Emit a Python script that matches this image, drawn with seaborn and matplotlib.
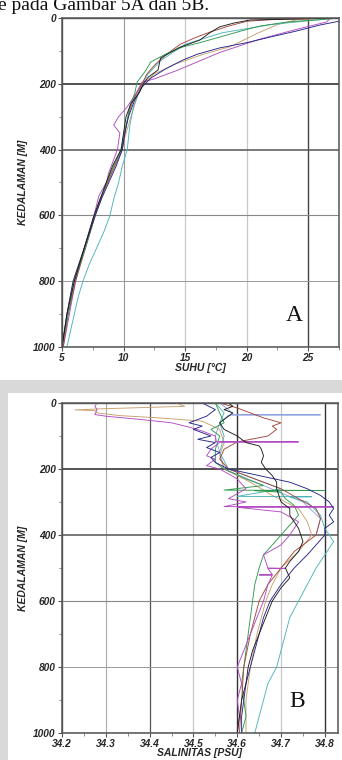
import pandas as pd
import matplotlib.pyplot as plt
import seaborn as sns
from matplotlib.patches import Rectangle
from matplotlib.ticker import MultipleLocator

# ---- Panel A: temperature profiles (depth m, temp degC) ----
a_black_depth = [0, 3, 6, 15, 27, 45, 67, 90, 122, 158, 180, 200, 225, 260, 300, 350, 400, 450, 500, 550, 600, 650, 700, 750, 800, 850, 900, 950, 1000]
a_black_temp = [27.4, 24.0, 20.3, 19.0, 17.8, 17.0, 16.2, 14.5, 13.0, 12.8, 12.0, 11.6, 11.3, 10.6, 10.2, 10.0, 9.8, 9.1, 8.6, 8.1, 7.6, 7.2, 6.8, 6.4, 6.0, 5.7, 5.4, 5.2, 5.0]

a_brown_depth = [0, 5, 10, 25, 43, 60, 80, 110, 140, 170, 200, 240, 280, 330, 400, 450, 500, 560, 600, 700, 800, 900, 1000]
a_brown_temp = [27.2, 22.0, 20.0, 18.5, 17.0, 15.8, 14.6, 13.5, 12.6, 11.9, 11.5, 10.9, 10.5, 10.2, 9.9, 9.3, 8.7, 8.0, 7.7, 6.9, 6.1, 5.5, 5.1]

a_green_depth = [0, 5, 12, 25, 40, 58, 75, 88, 110, 134, 160, 195, 230, 270, 310, 360, 400, 450, 500, 550, 600, 700, 800, 900, 1000]
a_green_temp = [27.6, 26.0, 23.3, 21.0, 19.5, 17.8, 16.2, 14.8, 13.4, 12.2, 11.8, 11.1, 10.9, 10.5, 10.3, 10.0, 9.8, 9.2, 8.6, 8.2, 7.7, 6.9, 6.0, 5.5, 5.0]

a_navy_depth = [0, 9, 21, 40, 58, 75, 91, 110, 128, 155, 183, 210, 250, 300, 350, 400, 450, 500, 550, 600, 700, 800, 900, 1000]
a_navy_temp = [27.6, 27.6, 26.0, 24.0, 21.9, 20.0, 17.8, 16.0, 14.8, 13.4, 12.2, 11.5, 10.9, 10.4, 10.1, 9.9, 9.4, 8.8, 8.2, 7.7, 6.8, 5.9, 5.4, 5.0]

a_tan_depth = [0, 6, 20, 46, 70, 88, 110, 140, 170, 200, 240, 300, 350, 400, 450, 500, 550, 600, 700, 800, 900, 1000]
a_tan_temp = [26.5, 24.0, 22.5, 20.9, 19.6, 18.6, 16.5, 14.2, 12.5, 11.6, 11.1, 10.6, 10.2, 9.8, 9.2, 8.7, 8.1, 7.6, 6.8, 5.9, 5.4, 5.0]

a_teal_depth = [0, 20, 45, 80, 130, 170, 200, 270, 330, 400, 450, 500, 550, 600, 650, 700, 750, 800, 850, 900, 950, 1000]
a_teal_temp = [27.2, 22.0, 18.0, 15.0, 13.0, 12.0, 11.5, 10.8, 10.5, 10.3, 9.9, 9.6, 9.2, 8.9, 8.4, 7.8, 7.2, 6.7, 6.3, 6.0, 5.7, 5.4]

a_purple_depth = [0, 12, 35, 65, 105, 160, 185, 195, 230, 270, 300, 325, 350, 400, 470, 500, 540, 600, 700, 800, 900, 1000]
a_purple_temp = [26.8, 26.5, 24.0, 21.0, 17.8, 14.3, 12.5, 11.5, 11.0, 10.3, 9.6, 9.2, 9.7, 9.5, 8.8, 8.6, 8.0, 7.6, 6.8, 6.1, 5.6, 5.1]

# ---- Panel B: salinity profiles (depth m, salinity PSU) ----
b_black_depth = [0, 10, 20, 30, 40, 60, 80, 100, 120, 130, 140, 160, 180, 200, 220, 240, 260, 280, 300, 320, 340, 360, 380, 400, 420, 450, 480, 500, 530, 560, 600, 650, 700, 750, 800, 850, 900, 950, 1000]
b_black_sal = [34.58, 34.59, 34.57, 34.59, 34.58, 34.56, 34.57, 34.60, 34.62, 34.65, 34.655, 34.66, 34.655, 34.665, 34.68, 34.69, 34.69, 34.695, 34.70, 34.72, 34.72, 34.73, 34.74, 34.745, 34.75, 34.74, 34.72, 34.71, 34.72, 34.70, 34.68, 34.665, 34.65, 34.635, 34.625, 34.62, 34.61, 34.605, 34.60]

b_brown_depth = [0, 15, 30, 45, 60, 70, 80, 100, 118, 140, 170, 200, 230, 260, 290, 320, 350, 400, 450, 500, 550, 600, 700, 800, 900, 1000]
b_brown_sal = [34.56, 34.60, 34.63, 34.66, 34.70, 34.68, 34.69, 34.67, 34.60, 34.57, 34.56, 34.58, 34.64, 34.70, 34.74, 34.78, 34.79, 34.78, 34.73, 34.70, 34.67, 34.65, 34.63, 34.615, 34.61, 34.605]

b_purple_depth = [0, 10, 20, 35, 40, 50, 60, 73, 85, 100, 117, 118, 119, 140, 160, 170, 190, 200, 230, 260, 290, 300, 314, 315, 316, 330, 360, 400, 430, 460, 500, 501, 502, 520, 521, 522, 550, 600, 650, 700, 750, 800, 850, 900, 950, 1000]
b_purple_sal = [34.28, 34.275, 34.28, 34.275, 34.30, 34.38, 34.45, 34.49, 34.52, 34.55, 34.55, 34.74, 34.56, 34.54, 34.53, 34.55, 34.53, 34.56, 34.60, 34.62, 34.58, 34.62, 34.57, 34.82, 34.60, 34.70, 34.74, 34.72, 34.70, 34.66, 34.67, 34.71, 34.67, 34.68, 34.65, 34.68, 34.67, 34.66, 34.645, 34.63, 34.615, 34.60, 34.61, 34.60, 34.605, 34.60]

b_navy_depth = [0, 20, 40, 60, 70, 80, 100, 110, 120, 135, 150, 165, 180, 200, 220, 240, 260, 280, 300, 320, 340, 360, 380, 400, 430, 460, 500, 550, 600, 650, 700, 750, 800, 850, 900, 950, 1000]
b_navy_sal = [34.52, 34.55, 34.53, 34.49, 34.52, 34.50, 34.54, 34.51, 34.55, 34.53, 34.56, 34.54, 34.55, 34.58, 34.65, 34.72, 34.76, 34.79, 34.81, 34.82, 34.81, 34.82, 34.80, 34.80, 34.78, 34.76, 34.73, 34.70, 34.675, 34.66, 34.65, 34.64, 34.63, 34.62, 34.615, 34.61, 34.61]

b_green_depth = [0, 30, 60, 80, 100, 140, 180, 200, 230, 250, 264, 265, 266, 270, 290, 310, 340, 370, 400, 430, 460, 500, 550, 600, 650, 700, 750, 800, 850, 900, 950, 1000]
b_green_sal = [34.55, 34.56, 34.57, 34.54, 34.56, 34.55, 34.55, 34.57, 34.62, 34.66, 34.57, 34.80, 34.64, 34.70, 34.71, 34.73, 34.74, 34.72, 34.70, 34.68, 34.66, 34.65, 34.64, 34.635, 34.63, 34.625, 34.62, 34.615, 34.61, 34.615, 34.62, 34.61]

b_teal_depth = [0, 30, 60, 100, 150, 200, 230, 260, 283, 284, 285, 300, 340, 380, 420, 460, 500, 550, 600, 650, 700, 750, 800, 850, 900, 950, 1000]
b_teal_sal = [34.55, 34.57, 34.56, 34.57, 34.56, 34.58, 34.64, 34.70, 34.60, 34.77, 34.72, 34.76, 34.79, 34.80, 34.82, 34.80, 34.78, 34.76, 34.74, 34.72, 34.71, 34.70, 34.69, 34.67, 34.66, 34.65, 34.64]

b_tan_depth = [0, 10, 18, 21, 23, 30, 38, 45, 55, 80, 120, 160, 200, 240, 280, 320, 360, 400, 450, 500, 550, 600, 700, 800, 900, 1000]
b_tan_sal = [34.46, 34.48, 34.28, 34.23, 34.275, 34.28, 34.33, 34.42, 34.52, 34.56, 34.57, 34.56, 34.57, 34.63, 34.68, 34.74, 34.76, 34.77, 34.74, 34.70, 34.68, 34.665, 34.645, 34.63, 34.62, 34.62]

b_lblue_depth = [0, 20, 35, 36, 37, 60, 100, 150, 200, 250, 300, 350, 400]
b_lblue_sal = [34.56, 34.58, 34.59, 34.79, 34.58, 34.56, 34.55, 34.56, 34.57, 34.66, 34.75, 34.79, 34.78]

palette = {'black': '#1c1c1c', 'brown': '#a3483a', 'green': '#2f9a4c', 'navy': '#25258a',
           'tan': '#c9a06e', 'teal': '#4cb3bd', 'purple': '#b24bc2', 'lblue': '#8fa3e3'}


def make_frame(profiles, value_name):
    rows = []
    for name, depth, vals in profiles:
        for d, v in zip(depth, vals):
            rows.append({'profile': name, 'depth': d, value_name: v})
    return pd.DataFrame(rows)


df_a = make_frame([
    ('tan', a_tan_depth, a_tan_temp),
    ('teal', a_teal_depth, a_teal_temp),
    ('purple', a_purple_depth, a_purple_temp),
    ('brown', a_brown_depth, a_brown_temp),
    ('green', a_green_depth, a_green_temp),
    ('navy', a_navy_depth, a_navy_temp),
    ('black', a_black_depth, a_black_temp),
], 'temp')

df_b = make_frame([
    ('lblue', b_lblue_depth, b_lblue_sal),
    ('tan', b_tan_depth, b_tan_sal),
    ('teal', b_teal_depth, b_teal_sal),
    ('green', b_green_depth, b_green_sal),
    ('brown', b_brown_depth, b_brown_sal),
    ('purple', b_purple_depth, b_purple_sal),
    ('navy', b_navy_depth, b_navy_sal),
    ('black', b_black_depth, b_black_sal),
], 'sal')

sns.set_theme(style='white')
plt.rcParams['font.family'] = ['Liberation Sans', 'DejaVu Sans']

fig = plt.figure(figsize=(3.42, 7.6), dpi=100)
fig.patch.set_facecolor('white')
# scanned page background: grey band around lower panel
fig.patches.append(Rectangle((0, 0), 1, 380 / 760, transform=fig.transFigure,
                             facecolor='#d9d9d9', edgecolor='none', zorder=-2))
fig.patches.append(Rectangle((8 / 342, 0), 1, 367 / 760, transform=fig.transFigure,
                             facecolor='white', edgecolor='none', zorder=-1))

fig.text(-0.005, 1 - 10 / 760, 'e pada Gambar 5A dan 5B.', family='Liberation Serif',
         fontsize=14, ha='left', va='baseline', color='#111')

ax_a = fig.add_axes([62 / 342, 1 - 347 / 760, 277 / 342, 329 / 760])
ax_b = fig.add_axes([62 / 342, 1 - 733 / 760, 276 / 342, 330 / 760])

sns.lineplot(data=df_a, x='temp', y='depth', hue='profile', palette=palette, units='profile',
             estimator=None, sort=False, legend=False, linewidth=0.65, ax=ax_a)
sns.lineplot(data=df_b, x='sal', y='depth', hue='profile', palette=palette, units='profile',
             estimator=None, sort=False, legend=False, linewidth=0.65, ax=ax_b)

tick_font = dict(fontsize=7.3, fontweight='bold', fontstyle='italic')
label_font = dict(fontsize=7.5, fontweight='bold', fontstyle='italic')

for ax in (ax_a, ax_b):
    ax.set_ylim(1000, 0)
    ax.yaxis.set_minor_locator(MultipleLocator(100))
    ax.set_yticks([0, 200, 400, 600, 800, 1000])
    ax.set_yticklabels(['0', '200', '400', '600', '800', '1000'], **tick_font)
    ax.tick_params(axis='both', which='major', direction='out', length=3, width=0.8,
                   color='#555', pad=1.5, left=True, bottom=True)
    ax.tick_params(axis='both', which='minor', direction='out', length=2, width=0.6,
                   color='#777', left=True, bottom=True)
    ax.set_ylabel('KEDALAMAN [M]', labelpad=4, **label_font)
    for sp in ax.spines.values():
        sp.set_color('#555')
        sp.set_linewidth(1.1)
    ax.grid(True, which='major')
    for gl, c, w in zip(ax.get_ygridlines(), ['#555', '#444', '#555', '#888', '#999', '#555'],
                        [1, 1.3, 1.1, 0.8, 0.7, 1]):
        gl.set_color(c)
        gl.set_linewidth(w)

ax_a.set_xlim(5, 27.5)
ax_a.set_xticks([5, 10, 15, 20, 25])
ax_a.set_xticklabels(['5', '10', '15', '20', '25'], **tick_font)
ax_a.xaxis.set_minor_locator(MultipleLocator(2.5))
ax_a.set_xlabel('SUHU [°C]', labelpad=0, **label_font)
for gl, c, w in zip(ax_a.get_xgridlines(), ['#555', '#999', '#c8c8c8', '#c8c8c8', '#444'],
                    [1, 0.8, 0.9, 0.9, 1]):
    gl.set_color(c)
    gl.set_linewidth(w)
ax_a.text(23.9, 905, 'A', family='Liberation Serif', fontsize=17, ha='center', va='center', color='#111')

ax_b.set_xlim(34.2, 34.83)
sal_ticks = [34.2, 34.3, 34.4, 34.5, 34.6, 34.7, 34.8]
ax_b.set_xticks(sal_ticks)
ax_b.set_xticklabels([f'{t:.1f}' for t in sal_ticks], **tick_font)
ax_b.xaxis.set_minor_locator(MultipleLocator(0.05))
ax_b.set_xlabel('SALINITAS [PSU]', labelpad=-1, **label_font)
for gl, c, w in zip(ax_b.get_xgridlines(), ['#555', '#aaa', '#555', '#c8c8c8', '#333', '#c8c8c8', '#333'],
                    [1, 0.8, 0.9, 0.9, 1, 0.9, 1]):
    gl.set_color(c)
    gl.set_linewidth(w)
ax_b.text(34.736, 905, 'B', family='Liberation Serif', fontsize=17, ha='center', va='center', color='#111')

fig.savefig('out.png', dpi=100)
